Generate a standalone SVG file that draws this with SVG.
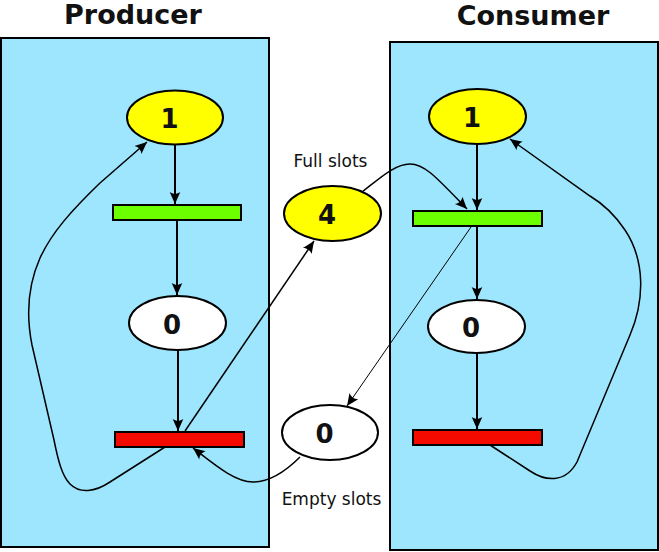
<svg xmlns="http://www.w3.org/2000/svg" width="659" height="552" viewBox="0 0 659 552">
<style>
.box{fill:#9de6fd;stroke:#000;stroke-width:2}
.title{font-family:"DejaVu Sans",sans-serif;font-weight:bold;font-size:27px;fill:#111;text-anchor:middle}
.lbl{font-family:"DejaVu Sans",sans-serif;font-size:17px;fill:#111;text-anchor:middle}
.num{font-family:"DejaVu Sans",sans-serif;font-weight:bold;font-size:26px;fill:#111;text-anchor:middle}
.pl{stroke:#000;stroke-width:2}
.yel{fill:#ffff00}
.wht{fill:#fff}
.grn{fill:#6cff00;stroke:#000;stroke-width:2}
.red{fill:#f50a00;stroke:#000;stroke-width:2}
.c{fill:none;stroke:#000;marker-end:url(#ah)}
.thick{stroke-width:2}
.mid{stroke-width:1.5}
.thin{stroke-width:1}
</style>
<defs>
<marker id="ah" viewBox="-13 -7 14 14" refX="0" refY="0" markerWidth="14" markerHeight="14" markerUnits="userSpaceOnUse" orient="auto">
<path d="M0,0 L-12,-5.3 C-9.6,-1.9 -9.6,1.9 -12,5.3 Z" fill="#000"/>
</marker>
</defs>
<g id="producer">
<rect class="box" x="1" y="38" width="268" height="509"/>
<text class="title" x="133" y="24">Producer</text>
</g>
<g id="consumer">
<rect class="box" x="390" y="42" width="268" height="508"/>
<text class="title" x="533" y="24.5">Consumer</text>
</g>
<g id="connectors">
<line class="c thick" x1="175" y1="145" x2="175" y2="204"/>
<line class="c thick" x1="177" y1="220" x2="177" y2="295"/>
<line class="c thick" x1="178" y1="350" x2="178" y2="431"/>
<line class="c thick" x1="477" y1="144" x2="477" y2="210"/>
<line class="c thick" x1="477" y1="226" x2="477" y2="299"/>
<line class="c thick" x1="477" y1="353" x2="477" y2="429"/>
<path class="c mid" d="M165,447 L110,482 C95,492 80,494 70,484 C62,476 58,460 54,440 L32,345 C26,315 28,285 40,258 C52,232 72,210 100,183 L147,142"/>
<line class="c mid" x1="185" y1="431" x2="314" y2="241"/>
<path class="c mid" d="M362,192 C380,178 395,164 410,164 C425,164 437,178 467,209"/>
<line class="c thin" x1="471" y1="227" x2="347" y2="406"/>
<path class="c mid" d="M300,457 C285,472 270,482 253,482 C235,482 215,465 193,448"/>
<path class="c mid" d="M490,445 L530,471 C545,481 565,484 577,462 L630,335 C645,300 645,260 625,230 C615,215 605,205 590,196 L510,139"/>
</g>
<g id="p-ready">
<ellipse class="pl yel" cx="175" cy="117.5" rx="48" ry="27"/>
<text class="num" x="169.5" y="128">1</text>
</g>
<g id="p-produce">
<rect class="grn" x="113" y="205" width="128" height="15"/>
</g>
<g id="p-wait">
<ellipse class="pl wht" cx="177.5" cy="323" rx="48.5" ry="27"/>
<text class="num" x="172" y="333.5">0</text>
</g>
<g id="p-put">
<rect class="red" x="115" y="432" width="129" height="15"/>
</g>
<g id="full-slots">
<ellipse class="pl yel" cx="332.5" cy="213.5" rx="48.5" ry="27.5"/>
<text class="num" x="327" y="224">4</text>
<text class="lbl" x="330.5" y="167">Full slots</text>
</g>
<g id="empty-slots">
<ellipse class="pl wht" cx="330" cy="432.5" rx="48" ry="27.5"/>
<text class="num" x="324.5" y="443">0</text>
<text class="lbl" x="331.5" y="505">Empty slots</text>
</g>
<g id="c-ready">
<ellipse class="pl yel" cx="477.5" cy="116.5" rx="48.5" ry="27.5"/>
<text class="num" x="472" y="127">1</text>
</g>
<g id="c-take">
<rect class="grn" x="413" y="211" width="129" height="15"/>
</g>
<g id="c-wait">
<ellipse class="pl wht" cx="476.5" cy="326.5" rx="48.5" ry="26.5"/>
<text class="num" x="471" y="337">0</text>
</g>
<g id="c-consume">
<rect class="red" x="413" y="430" width="129" height="15"/>
</g>
</svg>
